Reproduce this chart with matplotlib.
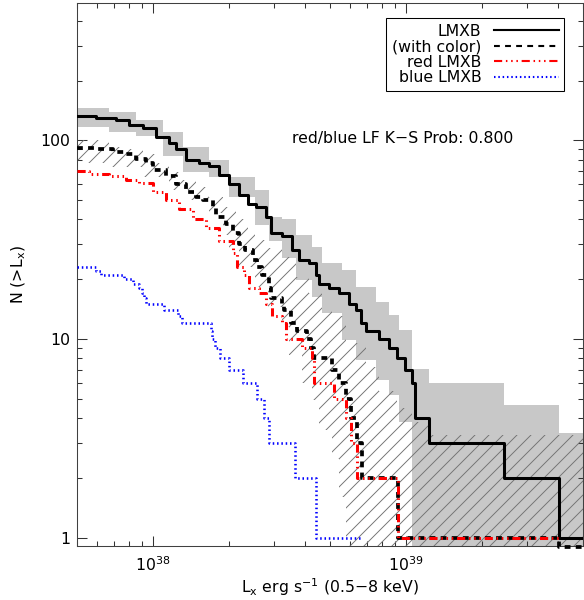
import numpy as np
import matplotlib
matplotlib.use('Agg')
import matplotlib.pyplot as plt
from matplotlib.lines import Line2D
from matplotlib.ticker import FuncFormatter

# cumulative luminosity functions, N(>L) vs L (erg/s), step values
lmxb_L = [5e37, 5.95e37, 7.13e37, 8.02e37, 9.11e37, 1.025e38, 1.153e38, 1.228e38, 1.345e38, 1.513e38,
          1.657e38, 1.814e38, 1.986e38, 2.175e38, 2.381e38, 2.561e38, 2.803e38, 2.933e38, 3.241e38, 3.548e38,
          3.78e38, 4.14e38, 4.411e38, 4.532e38, 4.963e38, 5.433e38, 5.948e38, 6.339e38, 6.632e38, 6.939e38,
          7.807e38, 8.55e38, 9.193e38, 9.883e38, 1.053e39, 1.082e39, 1.229e39, 2.447e39, 4.029e39, 5e39]
lmxb_N = [132, 130, 126, 120, 115, 104, 97, 90, 80, 77,
          74, 67, 60, 53, 48, 46, 41, 34, 33, 28,
          25, 24, 21, 19, 18, 17, 15, 14, 12, 11,
          10, 9, 8, 7, 6, 4, 3, 2, 1, 1]

color_L = [5e37, 5.95e37, 6.94e37, 7.81e37, 8.55e37, 9.36e37, 9.97e37, 1.122e38, 1.228e38, 1.345e38,
           1.473e38, 1.569e38, 1.718e38, 1.766e38, 1.933e38, 2.06e38, 2.175e38, 2.317e38, 2.47e38, 2.584e38,
           2.704e38, 2.881e38, 2.933e38, 3.241e38, 3.3e38, 3.517e38, 3.713e38, 4.065e38, 4.216e38, 4.332e38,
           5.1e38, 5.433e38, 5.79e38, 6.058e38, 6.396e38, 6.692e38, 9.276e38, 4.029e39, 5e39]
color_N = [92, 90, 87, 85, 81, 77, 71, 66, 60, 55,
           52, 50, 46, 41, 38, 34, 30, 28, 25, 23,
           21, 18, 16, 15, 14, 12, 11, 10, 9, 8,
           7, 6, 5, 4, 3, 2, 1, 0.9, 0.9]

red_L = [5e37, 5.59e37, 6.69e37, 7.81e37, 8.78e37, 9.97e37, 1.122e38, 1.262e38, 1.433e38, 1.612e38,
         1.814e38, 2.06e38, 2.136e38, 2.296e38, 2.403e38, 2.631e38, 2.803e38, 2.96e38, 3.241e38, 3.361e38,
         3.885e38, 4.254e38, 4.332e38, 5.193e38, 5.79e38, 6.058e38, 6.396e38, 9.276e38, 4.029e39]
red_N = [70, 68, 66, 63, 61, 55, 50, 45, 40, 36,
         31, 27, 23, 21, 18, 17, 15, 13, 12, 10,
         9, 8, 6, 5, 4, 3, 2, 1, 1]

blue_L = [5e37, 5.94e37, 6.22e37, 7.67e37, 8.32e37, 8.78e37, 9.03e37, 9.2e37, 9.36e37, 1.10e38,
          1.25e38, 1.30e38, 1.70e38, 1.71e38, 1.75e38, 1.83e38, 1.99e38, 2.26e38, 2.58e38, 2.73e38,
          2.88e38, 3.64e38, 4.41e38, 6.69e38]
blue_N = [23, 22, 21, 20, 19, 18, 17, 16, 15, 14,
          13, 12, 11, 10, 9, 8, 7, 6, 5, 4,
          3, 2, 1, 1]

# confidence band of the full LMXB sample (grey)
band_L = [5e37, 6.69e37, 8.55e37, 1.092e38, 1.309e38, 1.657e38, 1.986e38, 2.537e38, 2.881e38, 3.241e38,
          3.679e38, 4.254e38, 4.658e38, 5.583e38, 6.339e38, 7.597e38, 8.55e38, 9.36e38, 1.053e39, 1.229e39,
          2.447e39, 4.029e39, 5e39]
band_hi = [146, 139, 127, 110, 93, 80, 65.5, 56, 41, 40,
           33.4, 29, 24, 22.3, 18.3, 15.4, 13.2, 11.1, 7.1, 6.0,
           4.65, 3.36, 3.36]
band_lo = [117, 110, 105, 83, 69, 65.5, 52, 37.5, 31, 25.6,
           19.8, 16.3, 13.5, 9.9, 7.8, 6.2, 5.2, 3.8, 0, 0,
           0, 0, 0]

# confidence band of the sample with colour (hatched)
hatch_hi_L = [5e37, 6.69e37, 8.02e37, 9.11e37, 1.025e38, 1.153e38, 1.309e38, 1.473e38, 1.657e38, 1.881e38,
              2.117e38, 2.381e38, 2.537e38, 2.881e38, 3.241e38, 3.679e38, 4.14e38, 4.658e38, 5.1e38, 5.79e38,
              6.939e38, 7.807e38, 9.193e38, 1.053e39, 1.229e39, 5e39]
hatch_hi = [101, 93, 90, 85, 77, 69, 63, 58, 52, 46,
            40, 34, 31.5, 28.7, 26, 20.5, 17, 14, 13, 9.5,
            7.2, 5.5, 4.5, 3.8, 3.3, 3.3]
hatch_lo_L = [5e37, 6.69e37, 9.11e37, 1.153e38, 1.382e38, 1.657e38, 1.881e38, 1.986e38, 2.175e38, 2.537e38,
              2.855e38, 3.241e38, 3.453e38, 3.885e38, 4.254e38, 4.532e38, 5.1e38, 5.433e38, 5.79e38, 5e39]
hatch_lo = [77, 73.5, 65.5, 56, 50, 43, 33.4, 28, 23, 18.3,
            14.5, 11.5, 8.3, 6.0, 4.9, 3.5, 2.5, 1.6, 0, 0]

legend_labels = ['LMXB', '(with color)', 'red LMXB', 'blue LMXB']
ks_text = 'red/blue LF K\u2212S Prob: 0.800'

plt.rcParams['font.family'] = ['DejaVu Sans']
plt.rcParams['mathtext.fontset'] = 'dejavusans'
plt.rcParams['hatch.linewidth'] = 0.8
plt.rcParams['lines.scale_dashes'] = False

DPI = 84
FS = 13.5
fig = plt.figure(figsize=(584 / DPI, 600 / DPI), dpi=DPI)
ax = fig.add_axes([77 / 584, 1 - 545.7 / 600, (583 - 77) / 584, (545.7 - 3.3) / 600])
ax.set_xscale('log')
ax.set_yscale('log')


def stairs(x, y):
    x = np.asarray(x, float)
    y = np.asarray(y, float)
    return np.repeat(x, 2)[1:], np.repeat(y, 2)[:-1]


floor = 0.5  # empty lower bound -> below the plotted range
lo = np.where(np.asarray(band_lo) > 0, band_lo, floor)
ax.fill_between(band_L, lo, band_hi, step='post', color='#c8c8c8', lw=0, zorder=1)

xu, yu = stairs(hatch_hi_L, hatch_hi)
xl, yl = stairs(hatch_lo_L, np.where(np.asarray(hatch_lo) > 0, hatch_lo, floor))
ax.fill(np.r_[xu, xl[::-1]], np.r_[yu, yl[::-1]], facecolor='none', edgecolor='0.45',
        hatch='//', lw=0, zorder=2)

dash_color = (5, 4.5)
dash_red = (7, 3.2, 1.3, 3.2, 1.3, 3.2, 1.3, 3.2)
dash_blue = (1.3, 2.4)

ax.plot(lmxb_L, lmxb_N, drawstyle='steps-post', color='k', lw=2.6, zorder=5)
ax.plot(color_L, color_N, drawstyle='steps-post', color='k', lw=3.2, dashes=dash_color,
        zorder=4, clip_on=False)
ax.plot(red_L, red_N, drawstyle='steps-post', color='red', lw=2.6, dashes=dash_red, zorder=6)
ax.plot(blue_L, blue_N, drawstyle='steps-post', color='blue', lw=2.2, dashes=dash_blue, zorder=6)

ax.set_xlim(5e37, 5e39)
ax.set_ylim(0.91, 490)

ax.yaxis.set_major_formatter(FuncFormatter(lambda v, p: f'{v:g}'))
ax.tick_params(which='both', direction='in', top=True, right=True, color='0.2', width=0.9,
               labelsize=FS)
ax.tick_params(which='major', length=8.6)
ax.tick_params(which='minor', length=4.5)
ax.tick_params(axis='y', pad=6)
ax.tick_params(axis='x', pad=8)
for s in ax.spines.values():
    s.set_color('0.25')
    s.set_linewidth(0.9)

ax.set_xlabel('L$_{\\rm x}$ erg s$^{-1}$ (0.5\u22128 keV)', fontsize=FS)
ax.set_ylabel('N (>L$_{\\rm x}$)', fontsize=FS)
ax.xaxis.set_label_coords(0.5, -0.057)
ax.yaxis.set_label_coords(-0.096, 0.5)

ax.text(0.644, 0.743, ks_text, transform=ax.transAxes, ha='center', va='baseline', fontsize=FS)

handles = [Line2D([], [], color='k', lw=1.8),
           Line2D([], [], color='k', lw=1.8, dashes=dash_color),
           Line2D([], [], color='red', lw=1.8, dashes=dash_red),
           Line2D([], [], color='blue', lw=1.8, dashes=dash_blue)]
leg = ax.legend(handles, legend_labels, loc='upper right', bbox_to_anchor=(0.9625, 0.9729),
                markerfirst=False, fancybox=False, framealpha=1, edgecolor='k', fontsize=FS,
                handlelength=4.1, handletextpad=0.8, borderpad=0.35, labelspacing=0.04,
                borderaxespad=0)
leg.get_frame().set_linewidth(0.9)

fig.savefig('out.png', dpi=DPI)
